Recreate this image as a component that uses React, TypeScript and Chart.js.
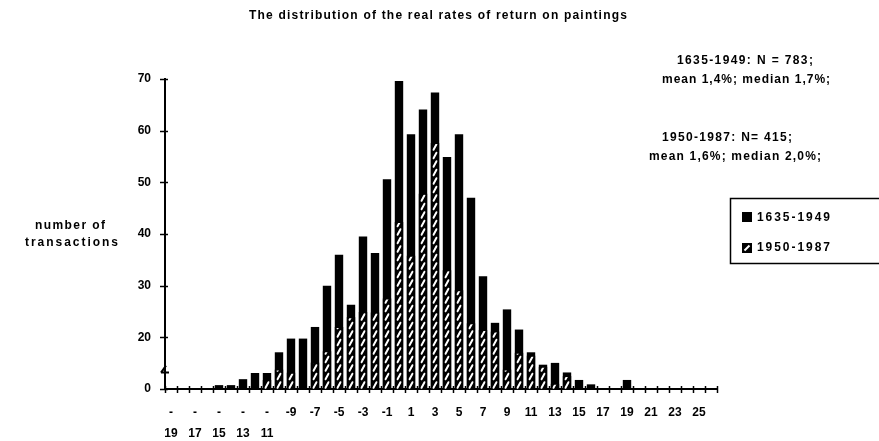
import React, { useEffect, useRef } from 'react';
import { Chart, registerables, LinearScale } from 'chart.js';

// ---------- data ----------
const categories = [
  -19, -18, -17, -16, -15, -14, -13, -12, -11, -10, -9, -8, -7, -6, -5, -4, -3, -2, -1, 0,
  1, 2, 3, 4, 5, 6, 7, 8, 9, 10, 11, 12, 13, 14, 15, 16, 17, 18, 19, 20, 21, 22, 23, 24, 25, 26,
];

const tickLabels: (string | string[])[] = [
  ['-', '19'], '', ['-', '17'], '', ['-', '15'], '', ['-', '13'], '', ['-', '11'], '',
  '-9', '', '-7', '', '-5', '', '-3', '', '-1', '',
  '1', '', '3', '', '5', '', '7', '', '9', '', '11', '', '13', '', '15', '', '17', '', '19', '',
  '21', '', '23', '', '25', '',
];

// 1635-1949 (solid black bars)
const series1635 = [
  0, 0, 0, 0, 1.5, 1.5, 3.8, 6.2, 6.2, 14.2, 19.5, 19.5, 22, 30, 36, 26.3, 39.5, 36.3, 50.6, 69.6,
  59.3, 64.1, 67.4, 54.9, 59.3, 47, 31.8, 22.8, 25.4, 21.5, 14.2, 9.4, 10.1, 6.4, 3.5, 1.8, 0, 0, 3.5, 0,
  0, 0, 0, 0, 0, 0,
];

// 1950-1987 (hatched bars)
const series1950 = [
  0, 0, 0, 0, 0, 0, 0, 0, 3.5, 7.5, 6.3, 0, 10.2, 14.6, 22, 23.9, 24.9, 24.8, 27.5, 42.3,
  35.8, 47.8, 57.6, 33, 29.1, 22.7, 21.4, 21.1, 7.5, 14, 12.9, 8.6, 2, 5, 0, 0, 0, 0, 0, 0,
  0, 0, 0, 0, 0, 0,
];

const yTickValues = [0, 20, 30, 40, 50, 60, 70];
const seriesNames = ['1635-1949', '1950-1987'];
const titleText = 'The distribution of the real rates of return on paintings';
const stats1 = ['1635-1949: N = 783;', 'mean 1,4%; median 1,7%;'];
const stats2 = ['1950-1987: N= 415;', 'mean 1,6%; median 2,0%;'];
const yTitle = ['number of', 'transactions'];

// axis break: values 0..20 share the lowest part of the axis
const BREAK_VALUE = 20;
const BREAK_FRAC = 0.1668;
const BREAK_MARK_VALUE = 7.5;

const FONT = "'Liberation Sans', Arial, Helvetica, sans-serif";

class BrokenLinearScale extends LinearScale {
  static id = 'brokenLinear';
  static defaults = LinearScale.defaults;
  getPixelForValue(value: any) {
    if (value === null || value === undefined || isNaN(value)) return NaN;
    const min = (this as any).min;
    const max = (this as any).max;
    let d: number;
    if (value <= BREAK_VALUE) d = ((value - min) / (BREAK_VALUE - min)) * BREAK_FRAC;
    else d = BREAK_FRAC + ((value - BREAK_VALUE) / (max - BREAK_VALUE)) * (1 - BREAK_FRAC);
    return (this as any).getPixelForDecimal(d);
  }
  getValueForPixel(pixel: number) {
    const d = (this as any).getDecimalForPixel(pixel);
    const min = (this as any).min;
    const max = (this as any).max;
    if (d <= BREAK_FRAC) return min + (d / BREAK_FRAC) * (BREAK_VALUE - min);
    return BREAK_VALUE + ((d - BREAK_FRAC) / (1 - BREAK_FRAC)) * (max - BREAK_VALUE);
  }
}

Chart.register(...registerables, BrokenLinearScale as any);

function spacedText(ctx: any, text: string, left: number, cy: number, font: string, targetW: number) {
  ctx.font = font;
  ctx.letterSpacing = '0px';
  const w = ctx.measureText(text).width;
  const n = text.length;
  const ls = n > 1 ? Math.max(0, (targetW - w) / (n - 1)) : 0;
  ctx.letterSpacing = ls.toFixed(2) + 'px';
  ctx.textAlign = 'left';
  ctx.textBaseline = 'middle';
  ctx.fillStyle = '#000';
  ctx.fillText(text, left, cy);
  ctx.letterSpacing = '0px';
}

const hatchPlugin = {
  id: 'hatchPlugin',
  afterDatasetsDraw(chart: any) {
    const meta = chart.getDatasetMeta(0);
    const ctx = chart.ctx;
    meta.data.forEach((el: any) => {
      const { x, y, base, width } = el.getProps(['x', 'y', 'base', 'width'], true);
      const h = base - y;
      if (h < 3) return;
      ctx.save();
      ctx.beginPath();
      ctx.rect(x - width / 2 + 1.5, y + 1, width - 3, h - 1);
      ctx.clip();
      ctx.strokeStyle = '#fff';
      ctx.lineWidth = 2;
      ctx.lineCap = 'round';
      for (let yy = base - 4; yy > y - 6; yy -= 8.5) {
        ctx.beginPath();
        ctx.moveTo(x - 1.5, yy + 2.8);
        ctx.lineTo(x + 1.5, yy - 2.8);
        ctx.stroke();
      }
      ctx.restore();
    });
  },
};

const decorPlugin = {
  id: 'decorPlugin',
  afterDraw(chart: any) {
    const ctx = chart.ctx;
    const xs = chart.scales.x;
    const ys = chart.scales.y;
    const area = chart.chartArea;
    ctx.save();
    ctx.strokeStyle = '#000';
    ctx.fillStyle = '#000';
    ctx.lineWidth = 1.5;
    // x ticks crossing the axis at category boundaries
    for (let i = 0; i <= categories.length; i++) {
      const px = Math.round(xs.getPixelForValue(i - 0.5)) + 0.5;
      ctx.beginPath();
      ctx.moveTo(px, area.bottom - 3);
      ctx.lineTo(px, area.bottom + 4);
      ctx.stroke();
    }
    // y ticks
    yTickValues.forEach((v) => {
      const py = Math.round(ys.getPixelForValue(v)) + 0.5;
      ctx.beginPath();
      ctx.moveTo(area.left - 5, py);
      ctx.lineTo(area.left + 3, py);
      ctx.stroke();
    });
    // axis break mark
    const bp = ys.getPixelForValue(BREAK_MARK_VALUE);
    ctx.lineWidth = 2;
    ctx.beginPath();
    ctx.moveTo(area.left - 4, bp + 3);
    ctx.lineTo(area.left + 1, bp - 4);
    ctx.moveTo(area.left - 4, bp + 3);
    ctx.lineTo(area.left + 4, bp + 3);
    ctx.stroke();

    // title
    spacedText(ctx, titleText, 249, 16, `bold 12px ${FONT}`, 378);
    // stats
    spacedText(ctx, stats1[0], 677, 61, `bold 12px ${FONT}`, 136);
    spacedText(ctx, stats1[1], 662, 80, `bold 12px ${FONT}`, 168);
    spacedText(ctx, stats2[0], 662, 138, `bold 12px ${FONT}`, 130);
    spacedText(ctx, stats2[1], 649, 157, `bold 12px ${FONT}`, 172);
    // y title
    spacedText(ctx, yTitle[0], 35, 226, `bold 12px ${FONT}`, 70);
    spacedText(ctx, yTitle[1], 25, 243, `bold 12px ${FONT}`, 93);

    // legend box
    ctx.lineWidth = 1.5;
    ctx.strokeRect(730.5, 198.5, 160, 65);
    // swatch 1
    ctx.fillRect(742, 212, 10, 10);
    spacedText(ctx, seriesNames[0], 757, 218, `bold 12px ${FONT}`, 73);
    // swatch 2 hatched
    ctx.fillRect(742, 243, 10, 10);
    ctx.strokeStyle = '#fff';
    ctx.lineWidth = 2;
    ctx.beginPath();
    ctx.moveTo(744.5, 250.5);
    ctx.lineTo(749.5, 245.5);
    ctx.stroke();
    spacedText(ctx, seriesNames[1], 757, 248, `bold 12px ${FONT}`, 73);
    ctx.restore();
  },
};

export default function App() {
  const ref = useRef<HTMLCanvasElement>(null);
  useEffect(() => {
    Chart.defaults.font.family = FONT;
    Chart.defaults.color = '#000';
    const chart = new Chart(ref.current as HTMLCanvasElement, {
      type: 'bar',
      data: {
        labels: categories.map(String),
        datasets: [
          {
            label: seriesNames[1],
            data: series1950,
            backgroundColor: '#000',
            borderWidth: 0,
            grouped: false,
            barPercentage: 0.7,
            categoryPercentage: 1,
            order: 0,
          } as any,
          {
            label: seriesNames[0],
            data: series1635,
            backgroundColor: '#000',
            borderWidth: 0,
            grouped: false,
            barPercentage: 0.7,
            categoryPercentage: 1,
            order: 1,
          } as any,
        ],
      },
      options: {
        animation: false,
        responsive: true,
        maintainAspectRatio: false,
        layout: { padding: { top: 79, right: 162, left: 0, bottom: 0 } },
        plugins: {
          legend: { display: false },
          title: { display: false },
          tooltip: { enabled: false },
        },
        scales: {
          x: {
            type: 'category',
            offset: true,
            grid: { display: false },
            border: { display: true, color: '#000', width: 2 },
            ticks: {
              autoSkip: false,
              maxRotation: 0,
              minRotation: 0,
              padding: 5,
              color: '#000',
              font: { size: 12, weight: 'bold', lineHeight: '21px' } as any,
              callback: (_v: any, i: number) => tickLabels[i],
            },
            afterFit: (s: any) => {
              s.height = 52;
            },
          },
          y: {
            type: 'brokenLinear' as any,
            min: 0,
            max: 70,
            grid: { display: false },
            border: { display: true, color: '#000', width: 2 },
            ticks: { padding: 6, color: '#000', font: { size: 12, weight: 'bold' } },
            afterBuildTicks: (s: any) => {
              s.ticks = yTickValues.map((v) => ({ value: v }));
            },
            afterFit: (s: any) => {
              s.width = 165;
            },
          } as any,
        },
      },
      plugins: [hatchPlugin, decorPlugin],
    } as any);
    return () => chart.destroy();
  }, []);
  return (
    <div style={{ position: 'fixed', left: 0, top: 0, width: 879, height: 441, background: '#fff' }}>
      <canvas ref={ref} />
    </div>
  );
}
